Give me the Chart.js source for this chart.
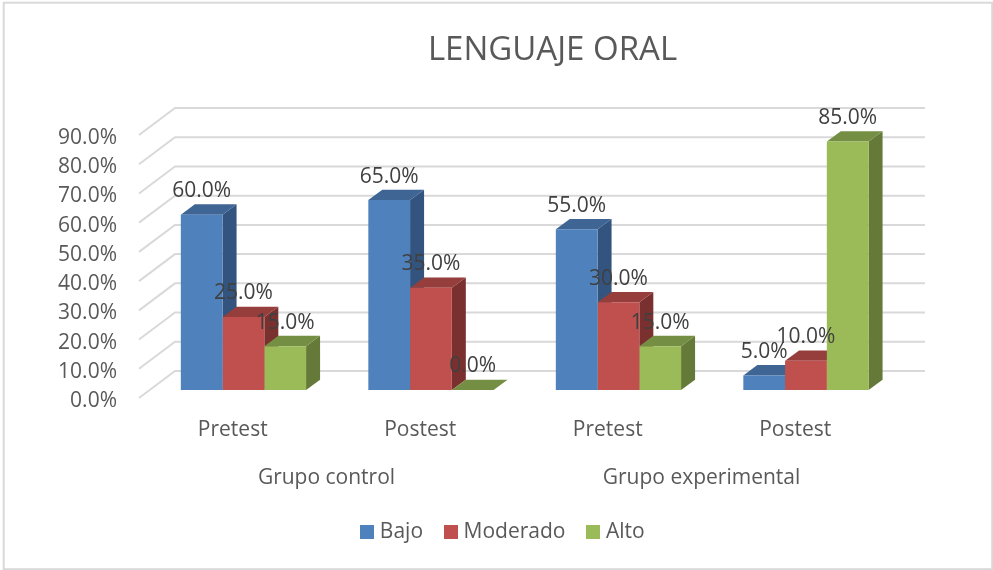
<!DOCTYPE html>
<html>
<head>
<meta charset="utf-8">
<style>
  html, body { margin: 0; padding: 0; background: #fff; }
  #wrap { position: relative; width: 993px; height: 570px; }
</style>
<script src="https://cdn.jsdelivr.net/npm/chart.js@4"></script>
</head>
<body>
<div id="wrap"><canvas id="myBar" width="993" height="570"></canvas></div>
<script>
const categories = ['Pretest', 'Postest', 'Pretest', 'Postest'];
const groups = ['Grupo control', 'Grupo experimental'];
const bajo = [60, 65, 55, 5];
const moderado = [25, 35, 30, 10];
const alto = [15, 0, 15, 85];
const yTicks = [0, 10, 20, 30, 40, 50, 60, 70, 80, 90];

const font = '"Open Sans", "Noto Sans", sans-serif';
const colors = ['#4f81bd', '#c0504d', '#9bbb59'];
const shades = [
  { top: '#3f6594', side: '#32547f' },
  { top: '#953e3c', side: '#7a302e' },
  { top: '#748f43', side: '#657a38' }
];
// floor depth of the fake 3d box, and where the bars sit inside it
const wall = { dx: 36, dy: -27 };
const barShift = { dx: 10.7, dy: -8 };
const barDepth = { dx: 14, dy: -10.3 };

function face(ctx, pts, color) {
  ctx.fillStyle = color;
  ctx.beginPath();
  pts.forEach((p, i) => i ? ctx.lineTo(p[0], p[1]) : ctx.moveTo(p[0], p[1]));
  ctx.closePath();
  ctx.fill();
}

// legend swatch as a small canvas, the built-in box leaves too wide a gap to the text
function swatch(color) {
  const c = document.createElement('canvas');
  c.width = 14;
  c.height = 14;
  const g = c.getContext('2d');
  g.fillStyle = color;
  g.fillRect(0, 0, 14, 14);
  return c;
}

const box3d = {
  id: 'box3d',
  afterLayout(chart) {
    // title and legend sit right of centre in the original
    chart.titleBlock.left += 108;
    chart.titleBlock.right += 108;
    chart.legend.left += 60.5;
    chart.legend.right += 60.5;
  },
  beforeDatasetsDraw(chart) {
    const ctx = chart.ctx;
    const y = chart.scales.y;
    const area = chart.chartArea;
    ctx.save();
    ctx.strokeStyle = '#d9d9d9';
    ctx.lineWidth = 2;
    y.ticks.forEach((t, i) => {
      const py = y.getPixelForTick(i);
      ctx.beginPath();
      ctx.moveTo(area.left, py);
      ctx.lineTo(area.left + wall.dx, py + wall.dy);
      ctx.lineTo(area.right + wall.dx, py + wall.dy);
      ctx.stroke();
    });
    ctx.restore();

    ctx.save();
    ctx.translate(barShift.dx, barShift.dy);
    categories.forEach((c, j) => {
      chart.data.datasets.forEach((ds, i) => {
        const b = chart.getDatasetMeta(i).data[j];
        const l = b.x - b.width / 2;
        const r = b.x + b.width / 2;
        const { dx, dy } = barDepth;
        face(ctx, [[r, b.y], [r + dx, b.y + dy], [r + dx, b.base + dy], [r, b.base]], shades[i].side);
        face(ctx, [[l, b.y], [l + dx, b.y + dy], [r + dx, b.y + dy], [r, b.y]], shades[i].top);
      });
    });
    // left on the stack until afterDatasetsDraw, fronts are drawn shifted too
  },
  afterDatasetsDraw(chart) {
    const ctx = chart.ctx;
    ctx.fillStyle = '#404040';
    ctx.font = '21px ' + font;
    ctx.textAlign = 'center';
    ctx.textBaseline = 'middle';
    chart.data.datasets.forEach((ds, i) => {
      chart.getDatasetMeta(i).data.forEach((b, j) => {
        ctx.fillText(ds.data[j].toFixed(1) + '%', b.x, b.y - 23.5);
      });
    });
    ctx.restore();
  },
  afterDraw(chart) {
    const ctx = chart.ctx;
    ctx.save();
    ctx.strokeStyle = '#d9d9d9';
    ctx.lineWidth = 2;
    ctx.strokeRect(3.7, 2.7, 988.5, 566.5);
    ctx.restore();
  }
};

new Chart(document.getElementById('myBar').getContext('2d'), {
  type: 'bar',
  plugins: [box3d],
  data: {
    labels: categories,
    datasets: [
      { label: 'Bajo', data: bajo, backgroundColor: colors[0] },
      { label: 'Moderado', data: moderado, backgroundColor: colors[1] },
      { label: 'Alto', data: alto, backgroundColor: colors[2] }
    ]
  },
  options: {
    responsive: false,
    animation: false,
    layout: { padding: { left: 0, right: 104, top: 0, bottom: 17.5 } },
    datasets: { bar: { categoryPercentage: 0.668, barPercentage: 1, clip: false } },
    plugins: {
      tooltip: { enabled: false },
      title: {
        display: true,
        text: 'LENGUAJE ORAL',
        color: '#595959',
        font: { family: font, size: 33, weight: 'normal' },
        padding: { top: 31, bottom: 64.4 }
      },
      legend: {
        position: 'bottom',
        labels: {
          color: '#595959',
          usePointStyle: true,
          pointStyleWidth: 4,
          padding: 26,
          font: { family: font, size: 21 },
          generateLabels(chart) {
            return chart.data.datasets.map((ds, i) => ({
              text: ds.label,
              fontColor: '#595959',
              fillStyle: colors[i],
              strokeStyle: colors[i],
              lineWidth: 0,
              pointStyle: swatch(colors[i]),
              datasetIndex: i
            }));
          }
        }
      }
    },
    scales: {
      y: {
        min: 0,
        max: 90,
        afterBuildTicks(s) { s.ticks = yTicks.map(v => ({ value: v })); },
        afterFit(s) { s.width = 139; },
        grid: { display: false },
        border: { display: false },
        ticks: {
          padding: 14,
          labelOffset: 3,
          autoSkip: false,
          color: '#595959',
          font: { family: font, size: 21 },
          callback: v => v.toFixed(1) + '%'
        }
      },
      x: {
        afterFit(s) { s.height = 55; },
        grid: { display: false },
        border: { display: false },
        ticks: { color: '#595959', padding: 11.5, maxRotation: 0, font: { family: font, size: 21 } }
      },
      group: {
        type: 'category',
        position: 'bottom',
        labels: groups,
        afterFit(s) { s.height = 42.5; },
        grid: { display: false },
        border: { display: false },
        ticks: { color: '#595959', padding: 4.4, maxRotation: 0, font: { family: font, size: 21 } }
      }
    }
  }
});
</script>
</body>
</html>
